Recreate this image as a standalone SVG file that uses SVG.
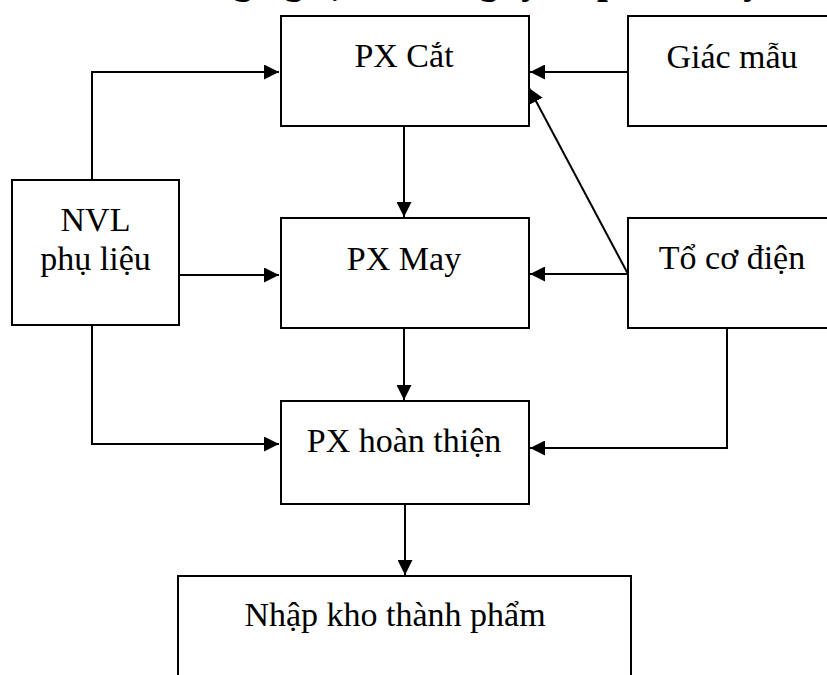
<svg xmlns="http://www.w3.org/2000/svg" width="827" height="675" viewBox="0 0 827 675">
  <style>
    .box { fill: #fff; stroke: #000; stroke-width: 2; }
    .lbl { font-family: "Liberation Serif", "Times New Roman", serif; font-size: 34px; fill: #000; text-anchor: middle; }
    .title { font-family: "Liberation Serif", "Times New Roman", serif; font-size: 39px; font-weight: bold; fill: #000; }
    .conn { fill: none; stroke: #000; stroke-width: 2; }
  </style>
  <defs>
    <marker id="arrow" markerUnits="userSpaceOnUse" markerWidth="15" markerHeight="15" refX="15" refY="7.5" orient="auto">
      <path d="M0,0 L15,7.5 L0,15 z" fill="#000"/>
    </marker>
  </defs>
  <rect width="827" height="675" fill="#fff"/>

  <!-- heading, clipped by the top edge -->
  <text class="title" x="174.5" y="-7">công nghệ của công ty cổ phần may</text>

  <g id="connectors">
    <polyline class="conn" points="92,180 92,72 279,72" marker-end="url(#arrow)"/>
    <line class="conn" x1="628" y1="72" x2="530" y2="72" marker-end="url(#arrow)"/>
    <line class="conn" x1="628" y1="274" x2="529" y2="88" marker-end="url(#arrow)"/>
    <line class="conn" x1="404" y1="126" x2="404" y2="217" marker-end="url(#arrow)"/>
    <line class="conn" x1="179" y1="275" x2="279" y2="275" marker-end="url(#arrow)"/>
    <line class="conn" x1="628" y1="274" x2="530" y2="274" marker-end="url(#arrow)"/>
    <line class="conn" x1="404" y1="328" x2="404" y2="400" marker-end="url(#arrow)"/>
    <polyline class="conn" points="92,325 92,444 279,444" marker-end="url(#arrow)"/>
    <polyline class="conn" points="727,328 727,448 530,448" marker-end="url(#arrow)"/>
    <line class="conn" x1="405" y1="504" x2="405" y2="575" marker-end="url(#arrow)"/>
  </g>

  <g id="px-cat">
    <rect class="box" x="281" y="16" width="248" height="110"/>
    <text class="lbl" x="404" y="67">PX Cắt</text>
  </g>
  <g id="giac-mau">
    <rect class="box" x="628" y="16" width="220" height="110"/>
    <text class="lbl" x="732" y="68">Giác mẫu</text>
  </g>
  <g id="nvl-phu-lieu">
    <rect class="box" x="12" y="180" width="167" height="145"/>
    <text class="lbl" x="95.5" y="231">NVL</text>
    <text class="lbl" x="95.5" y="270">phụ liệu</text>
  </g>
  <g id="px-may">
    <rect class="box" x="281" y="218" width="248" height="110"/>
    <text class="lbl" x="404" y="270">PX May</text>
  </g>
  <g id="to-co-dien">
    <rect class="box" x="628" y="218" width="220" height="110"/>
    <text class="lbl" x="732" y="269">Tổ cơ điện</text>
  </g>
  <g id="px-hoan-thien">
    <rect class="box" x="281" y="401" width="248" height="103"/>
    <text class="lbl" x="404" y="452">PX hoàn thiện</text>
  </g>
  <g id="nhap-kho">
    <rect class="box" x="178" y="576" width="453" height="130"/>
    <text class="lbl" x="395" y="626">Nhập kho thành phẩm</text>
  </g>
</svg>
